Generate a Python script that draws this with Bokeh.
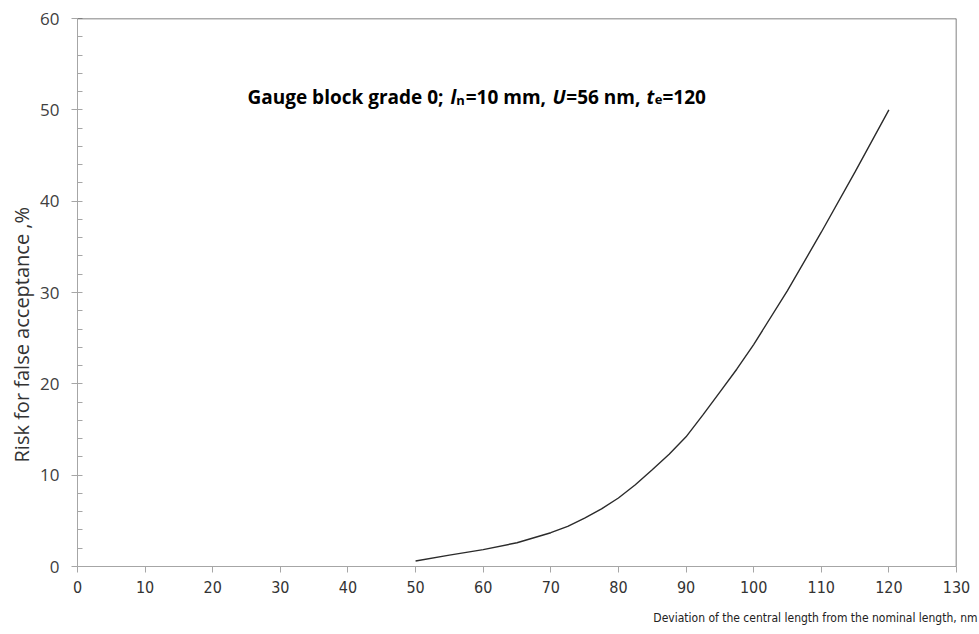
from bokeh.plotting import figure
from bokeh.models import Range1d, SingleIntervalTicker, Span, Label, Title
from bokeh.embed import file_html
from bokeh.resources import INLINE

# ---- data ----
deviation_nm = [50, 55, 60, 65, 70, 72.5, 75, 77.5, 80, 82.5, 85, 87.5, 90, 92.5, 95, 97.5,
                100, 105, 110, 115, 120]
risk_pct = [0.6, 1.25, 1.85, 2.6, 3.7, 4.4, 5.3, 6.3, 7.5, 8.95, 10.6, 12.3, 14.2, 16.6,
            19.1, 21.6, 24.3, 30.2, 36.6, 43.2, 50.0]
x_tick_values = list(range(0, 131, 10))

x_label_text = "Deviation of the central length from the nominal length, nm"
y_label_text = "Risk for false acceptance ,%"
# title pieces: (text, style, subscript?)
title_parts = [
    ("Gauge block grade 0;", "bold", False),
    ("l", "bold italic", False),
    ("n", "bold", True),
    ("=10 mm,", "bold", False),
    ("U", "bold italic", False),
    ("=56 nm,", "bold", False),
    ("t", "bold italic", False),
    ("e", "bold", True),
    ("=120", "bold", False),
]
# horizontal pixel positions of the title pieces (layout only)
title_px = [247.0, 450.0, 455.8, 465.2, 551.9, 565.8, 646.0, 654.2, 661.9]

FRAME_L, FRAME_R, FRAME_T, FRAME_B = 77, 956, 18, 566
X0, X1, Y0, Y1 = 0, 130, 0, 60

def px_to_x(px):
    return X0 + (px - FRAME_L) / (FRAME_R - FRAME_L) * (X1 - X0)

def py_to_y(py):
    return Y0 + (FRAME_B - py) / (FRAME_B - FRAME_T) * (Y1 - Y0)

p = figure(frame_width=FRAME_R - FRAME_L, frame_height=FRAME_B - FRAME_T,
           x_range=Range1d(X0, X1), y_range=Range1d(Y0, Y1),
           output_backend="svg", toolbar_location=None,
           min_border_left=FRAME_L, min_border_top=FRAME_T, min_border_right=22,
           min_border_bottom=0)
p.outline_line_color = None
p.xgrid.grid_line_color = None
p.ygrid.grid_line_color = None
p.background_fill_color = "white"
p.border_fill_color = "white"

AXIS_GRAY = "#a6a6a6"
narrow = "'Liberation Sans Narrow', 'DejaVu Sans Condensed', 'Roboto Condensed', sans-serif"

xa = p.xaxis[0]
xa.ticker = x_tick_values
xa.axis_line_color = AXIS_GRAY
xa.major_tick_line_color = AXIS_GRAY
xa.major_tick_out = 6
xa.major_tick_in = 0
xa.minor_tick_line_color = None
xa.major_label_text_font = narrow
xa.major_label_text_font_size = "16px"
xa.major_label_text_color = "#333333"
xa.major_label_standoff = 8

ya = p.yaxis[0]
ya.ticker = SingleIntervalTicker(interval=10, num_minor_ticks=5)
ya.axis_line_color = AXIS_GRAY
ya.major_tick_line_color = AXIS_GRAY
ya.minor_tick_line_color = AXIS_GRAY
ya.major_tick_out = 6
ya.major_tick_in = 0
ya.minor_tick_out = 0
ya.minor_tick_in = 5
ya.major_label_text_font = "Open Sans"
ya.major_label_text_font_size = "17px"
ya.major_label_text_color = "#404040"
ya.major_label_standoff = 12

# y axis title as a side title, starting a little above the frame bottom like the reference
yt = Title(text=y_label_text, align="left", text_font="Open Sans",
           text_font_size="20px", text_font_style="normal",
           text_color="#333333", offset=104, standoff=5)
p.add_layout(yt, "left")

# dark frame on top and right
p.add_layout(Span(location=Y1, dimension="width", line_color="#595959", line_width=1.5))
p.add_layout(Span(location=X1, dimension="height", line_color="#595959", line_width=1.5))

p.line(deviation_nm, risk_pct, line_color="#2b2b2b", line_width=1.4)

# title made of pieces (bold with italic symbols and subscripts)
for (txt, style, sub), px in zip(title_parts, title_px):
    p.add_layout(Label(x=px_to_x(px), y=py_to_y(99 if sub else 96), text=txt,
                       text_font="Open Sans", text_font_style=style,
                       text_font_size="13px" if sub else "19px",
                       text_color="#000000", text_baseline="alphabetic",
                       text_align="left"))

xt = Title(text=x_label_text, align="right", text_font=narrow,
           text_font_size="12px", text_font_style="normal",
           text_color="#222222", offset=-21, standoff=26)
p.add_layout(xt, "below")

open("out.html", "w").write(file_html(p, INLINE))
